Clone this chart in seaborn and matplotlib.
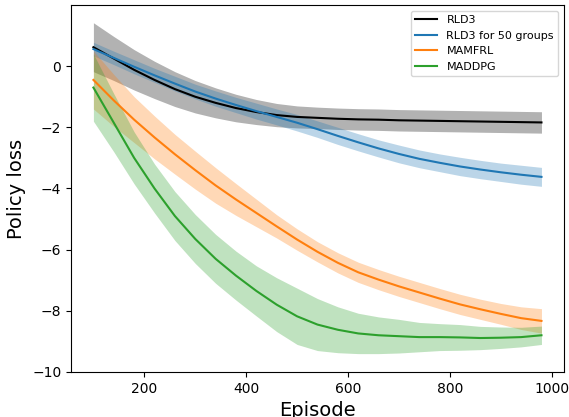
import numpy as np
import pandas as pd
import matplotlib
matplotlib.use("Agg")
import matplotlib.pyplot as plt
import seaborn as sns

episodes = [100, 140, 180, 220, 260, 300, 340, 380, 420, 460, 500, 540,
            580, 620, 660, 700, 740, 780, 820, 860, 900, 940, 980]

rld3 = [0.62, 0.25, -0.12, -0.45, -0.75, -1.0, -1.2, -1.37, -1.5, -1.6, -1.66, -1.69,
        -1.72, -1.74, -1.75, -1.77, -1.78, -1.79, -1.80, -1.81, -1.82, -1.83, -1.84]
rld3_sd = [0.8, 0.72, 0.66, 0.61, 0.57, 0.53, 0.49, 0.45, 0.41, 0.38, 0.36, 0.35,
           0.35, 0.35, 0.35, 0.35, 0.35, 0.35, 0.35, 0.35, 0.35, 0.35, 0.35]

rld3_50 = [0.56, 0.27, -0.02, -0.3, -0.57, -0.83, -1.06, -1.27, -1.47, -1.66, -1.85, -2.06,
           -2.28, -2.49, -2.69, -2.87, -3.03, -3.16, -3.28, -3.38, -3.47, -3.55, -3.62]
rld3_50_sd = [0.22, 0.22, 0.23, 0.23, 0.24, 0.24, 0.25, 0.25, 0.26, 0.26, 0.27, 0.27,
              0.28, 0.28, 0.28, 0.29, 0.29, 0.29, 0.30, 0.30, 0.30, 0.31, 0.31]

mamfrl = [-0.45, -1.12, -1.75, -2.33, -2.88, -3.4, -3.9, -4.36, -4.8, -5.24, -5.67, -6.07,
          -6.43, -6.74, -6.98, -7.2, -7.4, -7.6, -7.79, -7.95, -8.1, -8.24, -8.33]
mamfrl_sd = [0.95, 0.85, 0.75, 0.7, 0.65, 0.62, 0.58, 0.52, 0.45, 0.38, 0.35, 0.33,
             0.33, 0.33, 0.33, 0.33, 0.33, 0.33, 0.33, 0.33, 0.34, 0.37, 0.4]

maddpg = [-0.7, -1.85, -3.0, -4.0, -4.9, -5.65, -6.3, -6.85, -7.35, -7.8, -8.18, -8.45,
          -8.62, -8.74, -8.8, -8.83, -8.86, -8.86, -8.87, -8.89, -8.88, -8.86, -8.8]
maddpg_sd = [1.1, 0.95, 0.85, 0.8, 0.8, 0.8, 0.8, 0.8, 0.82, 0.88, 0.92, 0.85,
             0.75, 0.66, 0.6, 0.55, 0.48, 0.44, 0.42, 0.38, 0.35, 0.32, 0.3]

labels = ["RLD3", "RLD3 for 50 groups", "MAMFRL", "MADDPG"]
colors = ["black", "tab:blue", "tab:orange", "tab:green"]
means = [rld3, rld3_50, mamfrl, maddpg]
sds = [rld3_sd, rld3_50_sd, mamfrl_sd, maddpg_sd]

rows = []
for lab, m, s in zip(labels, means, sds):
    for e, v, d in zip(episodes, m, s):
        rows.append({"Episode": e, "Policy loss": v, "sd": d, "Method": lab})
df = pd.DataFrame(rows)

fig = plt.figure(figsize=(5.69, 4.17), dpi=100)
ax = fig.add_axes([0.1248, 0.108, 0.991 - 0.1248, 0.988 - 0.108])

sns.lineplot(data=df, x="Episode", y="Policy loss", hue="Method",
             hue_order=labels, palette=colors, ax=ax, linewidth=1.5)
for lab, col in zip(labels, colors):
    sub = df[df["Method"] == lab]
    ax.fill_between(sub["Episode"], sub["Policy loss"] - sub["sd"],
                    sub["Policy loss"] + sub["sd"], color=col, alpha=0.3, linewidth=0)

ax.set_ylim(-10, 2)
ax.set_xlim(56, 1024)
ax.set_yticks([0, -2, -4, -6, -8, -10])
ax.set_xticks([200, 400, 600, 800, 1000])
ax.tick_params(labelsize=10)
ax.set_xlabel("Episode", fontsize=14)
ax.set_ylabel("Policy loss", fontsize=14)
ax.legend(loc="upper right", fontsize=8, title=None)

fig.savefig("out.png", dpi=100)
